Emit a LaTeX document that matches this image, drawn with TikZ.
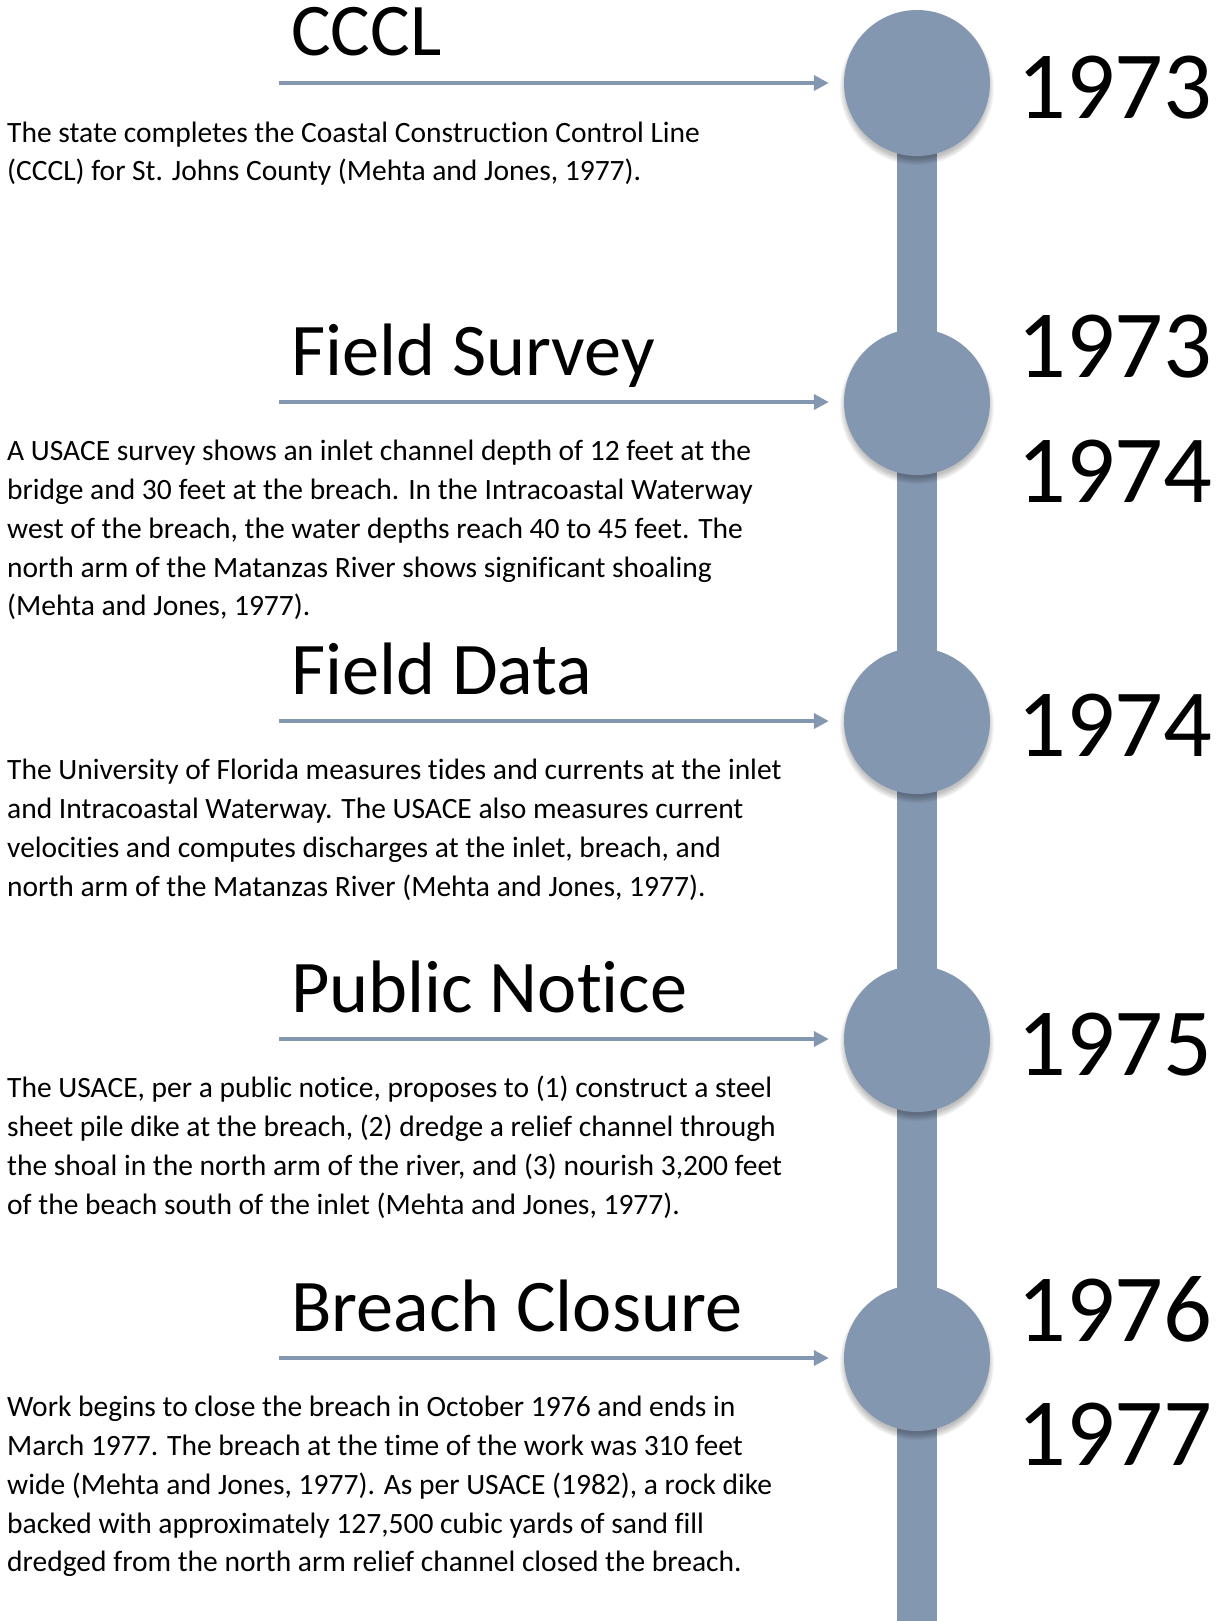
\documentclass[tikz,border=0pt]{standalone}
\usepackage{fontspec}
\setmainfont{Carlito}[Ligatures={NoCommon}]
\usetikzlibrary{arrows.meta}
\definecolor{tlblue}{HTML}{8497B0}
\begin{document}
\begin{tikzpicture}[x=1pt,y=-1pt,
  eventdot/.style={circle,fill=tlblue,minimum size=146pt,inner sep=0pt},
  pointer/.style={draw=tlblue,line width=4.5pt,shorten >=15pt,-{Triangle[length=15pt,width=15pt]}},
  titletext/.style={anchor=base west,inner sep=0pt,font=\fontsize{74.3}{88}\selectfont},
  yeartext/.style={anchor=base west,inner sep=0pt,font=\fontsize{96.3}{115}\selectfont},
  bodytext/.style={anchor=north west,inner sep=0pt,align=left,font=\fontsize{29.5}{38.8}\selectfont}]
\useasboundingbox (0,0) rectangle (1225,1621);
\fill[tlblue] (897,83) rectangle (937,1621);
\foreach \cy in {83,402,721,1039,1358}{
  \foreach \k in {0,...,7}{
    \fill[black,opacity=0.035] (917,\cy+5) circle ({77-\k*0.9});
  }
}
\node[eventdot] (c1) at (917,83) {};
\node[eventdot] (c2) at (917,402) {};
\node[eventdot] (c3) at (917,721) {};
\node[eventdot] (c4) at (917,1039) {};
\node[eventdot] (c5) at (917,1358) {};
\coordinate (a1) at (279,83);
\coordinate (a2) at (279,402);
\coordinate (a3) at (279,721);
\coordinate (a4) at (279,1039);
\coordinate (a5) at (279,1358);
\draw[pointer] (a1) -- (c1);
\draw[pointer] (a2) -- (c2);
\draw[pointer] (a3) -- (c3);
\draw[pointer] (a4) -- (c4);
\draw[pointer] (a5) -- (c5);
\node[titletext] (t1) at (291,56) {CCCL};
\node[titletext] (t2) at (291,375) {Field Survey};
\node[titletext] (t3) at (291,694) {Field Data};
\node[titletext] (t4) at (291,1012) {Public Notice};
\node[titletext] (t5) at (291,1331) {Breach Closure};
\node[yeartext] (y1) at (1017,119) {1973};
\node[yeartext] (y2) at (1017,377) {1973};
\node[yeartext] (y3) at (1017,502) {1974};
\node[yeartext] (y4) at (1017,756) {1974};
\node[yeartext] (y5) at (1017,1075) {1975};
\node[yeartext] (y6) at (1017,1341) {1976};
\node[yeartext] (y7) at (1017,1465) {1977};
\node[bodytext] (b1) at (7,142-27.16) {\strut The state completes the Coastal Construction Control Line\\(CCCL) for St. Johns County (Mehta and Jones, 1977).};
\node[bodytext] (b2) at (7,460.5-27.16) {\strut A USACE survey shows an inlet channel depth of 12 feet at the\\bridge and 30 feet at the breach. In the Intracoastal Waterway\\west of the breach, the water depths reach 40 to 45 feet. The\\north arm of the Matanzas River shows significant shoaling\\(Mehta and Jones, 1977).};
\node[bodytext] (b3) at (7,779.5-27.16) {\strut The University of Florida measures tides and currents at the inlet\\and Intracoastal Waterway. The USACE also measures current\\velocities and computes discharges at the inlet, breach, and\\north arm of the Matanzas River (Mehta and Jones, 1977).};
\node[bodytext] (b4) at (7,1097.5-27.16) {\strut The USACE, per a public notice, proposes to (1) construct a steel\\sheet pile dike at the breach, (2) dredge a relief channel through\\the shoal in the north arm of the river, and (3) nourish 3,200 feet\\of the beach south of the inlet (Mehta and Jones, 1977).};
\node[bodytext] (b5) at (7,1416.5-27.16) {\strut Work begins to close the breach in October 1976 and ends in\\March 1977. The breach at the time of the work was 310 feet\\wide (Mehta and Jones, 1977). As per USACE (1982), a rock dike\\backed with approximately 127,500 cubic yards of sand fill\\dredged from the north arm relief channel closed the breach.};
\end{tikzpicture}
\end{document}
